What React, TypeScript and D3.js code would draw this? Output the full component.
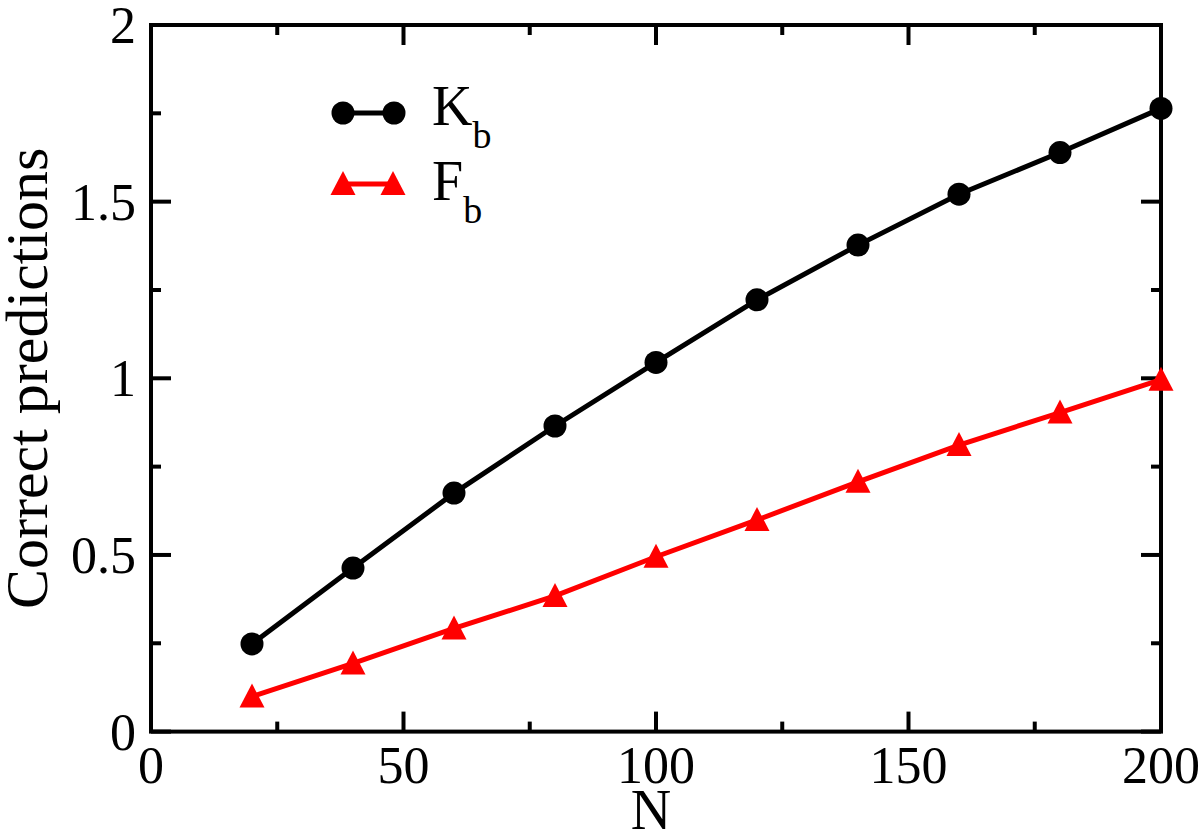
import React, { useRef, useEffect } from "react";
import * as d3 from "d3";

// values
const nValues = [20, 40, 60, 80, 100, 120, 140, 160, 180, 200];
const kbValues = [0.248, 0.463, 0.675, 0.865, 1.045, 1.222, 1.377, 1.521, 1.639, 1.764];
const fbValues = [0.099, 0.193, 0.292, 0.384, 0.495, 0.599, 0.707, 0.811, 0.903, 0.996];
const xTicks = [0, 50, 100, 150, 200];
const yTicks = [0, 0.5, 1, 1.5, 2];
const yTickLabels = ["0", "0.5", "1", "1.5", "2"];

const FONT = "'Liberation Serif', 'Times New Roman', serif";

const App = () => {
  const svgRef = useRef<SVGSVGElement>(null);

  useEffect(() => {
    document.body.style.margin = "0";

    const width = 1200;
    const height = 836;
    const left = 151;
    const right = 1161;
    const top = 25;
    const bottom = 731.6;

    const x = d3.scaleLinear().domain([0, 200]).range([left, right]);
    const y = d3.scaleLinear().domain([0, 2]).range([bottom, top]);

    d3.select(svgRef.current).selectAll("*").remove();

    const svg = d3
      .select(svgRef.current)
      .attr("width", width)
      .attr("height", height)
      .attr("viewBox", [0, 0, width, height])
      .style("display", "block")
      .style("background", "#fff");

    const line = d3
      .line<number>()
      .x((_, i) => x(nValues[i]))
      .y((d) => y(d));

    // ticks (inward, on all four sides)
    const ticks = svg.append("g").attr("stroke", "#000").attr("stroke-width", 4);
    const xMinor = d3.range(0, 201, 25);
    const yMinor = d3.range(0, 2.001, 0.25);
    xMinor.forEach((v) => {
      const len = v % 50 === 0 ? 20 : 10;
      ticks.append("line").attr("x1", x(v)).attr("x2", x(v)).attr("y1", bottom).attr("y2", bottom - len);
      ticks.append("line").attr("x1", x(v)).attr("x2", x(v)).attr("y1", top).attr("y2", top + len);
    });
    yMinor.forEach((v, i) => {
      const len = i % 2 === 0 ? 20 : 10;
      ticks.append("line").attr("x1", left).attr("x2", left + len).attr("y1", y(v)).attr("y2", y(v));
      ticks.append("line").attr("x1", right).attr("x2", right - len).attr("y1", y(v)).attr("y2", y(v));
    });

    // frame
    svg
      .append("rect")
      .attr("x", left)
      .attr("y", top)
      .attr("width", right - left)
      .attr("height", bottom - top)
      .attr("fill", "none")
      .attr("stroke", "#000")
      .attr("stroke-width", 4);

    // tick labels
    svg
      .append("g")
      .attr("font-family", FONT)
      .attr("font-size", 52)
      .attr("text-anchor", "middle")
      .selectAll("text")
      .data(xTicks)
      .join("text")
      .attr("x", (d) => x(d))
      .attr("y", 783)
      .text((d) => d);

    svg
      .append("g")
      .attr("font-family", FONT)
      .attr("font-size", 52)
      .attr("text-anchor", "end")
      .selectAll("text")
      .data(yTicks)
      .join("text")
      .attr("x", 136)
      .attr("y", (d) => y(d) + 18)
      .text((_, i) => yTickLabels[i]);

    // axis titles
    svg
      .append("text")
      .attr("x", x(100) - 5)
      .attr("y", 829)
      .attr("text-anchor", "middle")
      .attr("font-family", FONT)
      .attr("font-size", 56)
      .text("N");

    svg
      .append("text")
      .attr("transform", `translate(47,${(top + bottom) / 2}) rotate(-90)`)
      .attr("text-anchor", "middle")
      .attr("font-family", FONT)
      .attr("font-size", 60)
      .text("Correct predictions");

    const triangle = (cx: number, cy: number) =>
      `M${cx},${cy - 13}L${cx + 12.5},${cy + 11}L${cx - 12.5},${cy + 11}Z`;

    // Fb series
    svg
      .append("path")
      .datum(fbValues)
      .attr("fill", "none")
      .attr("stroke", "#ff0000")
      .attr("stroke-width", 5)
      .attr("d", line);
    svg
      .append("g")
      .attr("fill", "#ff0000")
      .selectAll("path")
      .data(fbValues)
      .join("path")
      .attr("d", (d, i) => triangle(x(nValues[i]), y(d)));

    // Kb series
    svg
      .append("path")
      .datum(kbValues)
      .attr("fill", "none")
      .attr("stroke", "#000")
      .attr("stroke-width", 5)
      .attr("d", line);
    svg
      .append("g")
      .attr("fill", "#000")
      .selectAll("circle")
      .data(kbValues)
      .join("circle")
      .attr("cx", (_, i) => x(nValues[i]))
      .attr("cy", (d) => y(d))
      .attr("r", 11.5);

    // legend
    const legend = svg.append("g");
    legend
      .append("line")
      .attr("x1", 343)
      .attr("x2", 394)
      .attr("y1", 113)
      .attr("y2", 113)
      .attr("stroke", "#000")
      .attr("stroke-width", 5);
    [343, 394].forEach((cx) =>
      legend.append("circle").attr("cx", cx).attr("cy", 113).attr("r", 11.5).attr("fill", "#000")
    );
    legend
      .append("line")
      .attr("x1", 343)
      .attr("x2", 393)
      .attr("y1", 184)
      .attr("y2", 184)
      .attr("stroke", "#ff0000")
      .attr("stroke-width", 5);
    [343, 393].forEach((cx) => legend.append("path").attr("d", triangle(cx, 184)).attr("fill", "#ff0000"));

    const legendText = (label: string, yBase: number) => {
      const t = legend
        .append("text")
        .attr("x", 432)
        .attr("y", yBase)
        .attr("font-family", FONT)
        .attr("font-size", 56);
      t.append("tspan").text(label);
      t.append("tspan").attr("font-size", 38).attr("dy", 23).text("b");
    };
    legendText("K", 125);
    legendText("F", 200);
  }, []);

  return <svg ref={svgRef}></svg>;
};

export default App;
